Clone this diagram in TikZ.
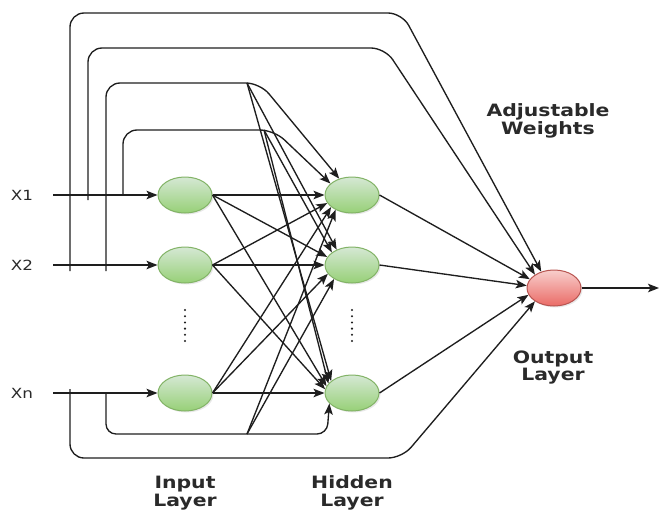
\documentclass[tikz,border=0pt]{standalone}
\usepackage{fontspec}
\setmainfont{DejaVu Sans}
\newfontfamily\lblfont[FakeStretch=1.2]{DejaVu Sans}
\usetikzlibrary{arrows.meta,shapes.geometric,shadows}

\definecolor{gTop}{HTML}{D5E8D4}
\definecolor{gBot}{HTML}{97D077}
\definecolor{gLine}{HTML}{82B366}
\definecolor{rTop}{HTML}{F8CECC}
\definecolor{rBot}{HTML}{EA6B66}
\definecolor{rLine}{HTML}{B85450}
\definecolor{ink}{HTML}{1E1E1E}
\definecolor{txt}{HTML}{2A2A2A}

\tikzset{
  neuron/.style={ellipse, minimum width=54pt, minimum height=36pt, inner sep=0pt,
    line width=1pt, drop shadow={opacity=0.18, shadow xshift=1.5pt, shadow yshift=-1.5pt}},
  greenneuron/.style={neuron, draw=gLine, top color=gTop, bottom color=gBot},
  redneuron/.style={neuron, draw=rLine, top color=rTop, bottom color=rBot},
  conn/.style={draw=ink, line width=1.35pt, -{Stealth[length=11pt,width=8.5pt,inset=2.5pt]}},
  wire/.style={conn, rounded corners=14pt},
  dotline/.style={draw=ink, line width=2.3pt, line cap=round, dash pattern=on 0pt off 6.2pt},
  xlabel/.style={font=\lblfont\fontsize{14}{15}\selectfont, text=txt, inner sep=0pt},
  caption/.style={font=\lblfont\bfseries\fontsize{17}{18}\selectfont, text=txt, inner sep=0pt, anchor=base}
}

\begin{document}
\begin{tikzpicture}[x=1pt, y=-1pt]
\useasboundingbox (0,0) rectangle (660,512);

% neurons
\node[greenneuron] (i1) at (185,195) {};
\node[greenneuron] (i2) at (185,265) {};
\node[greenneuron] (i3) at (185,393) {};
\node[greenneuron] (h1) at (352,195) {};
\node[greenneuron] (h2) at (352,265) {};
\node[greenneuron] (h3) at (352,393) {};
\node[redneuron]   (o)  at (554,288) {};

% input labels and input lines
\node[xlabel] (x1) at (22,195) {X1};
\node[xlabel] (x2) at (22,265) {X2};
\node[xlabel] (xn) at (22,393) {Xn};
\coordinate (s1) at (53,195);
\coordinate (s2) at (53,265);
\coordinate (sn) at (53,393);
\draw[conn] (s1) -- (i1);
\draw[conn] (s2) -- (i2);
\draw[conn] (sn) -- (i3);

% direct links from the inputs (bypassing the input layer)
\coordinate (p1s) at (70,271);  \coordinate (p1c) at (402,13);
\coordinate (p2s) at (88,200);  \coordinate (p2c) at (385,48);
\coordinate (p3s) at (106,271); \coordinate (p3c) at (260,83);
\coordinate (p4s) at (123,195); \coordinate (p4c) at (274,130);
\coordinate (p5s) at (70,389);  \coordinate (p5c) at (402,458);
\coordinate (p6s) at (106,393); \coordinate (p6c) at (327,434);
\draw[wire] (p1s) |- (p1c) -- (o.128);
\draw[wire] (p2s) |- (p2c) -- (o.145);
\draw[wire] (p3s) |- (p3c) -- (h1.128);
\draw[wire] (p4s) |- (p4c) -- (h1.152);
\draw[wire] (p5s) |- (p5c) -- (o.215);
\draw[wire, rounded corners=10pt] (p6s) |- (p6c) -- (h3.205);

% branch points on the bypass links
\coordinate (t2) at (247,83);
\coordinate (t1) at (264,130);
\coordinate (b1) at (247,434);
\draw[conn] (t2) -- (h2.135);
\draw[conn] (t2) -- (h3.150);
\draw[conn] (t1) -- (h2.148);
\draw[conn] (t1) -- (h3.158);
\draw[conn] (b1) -- (h1.222);
\draw[conn] (b1) -- (h2.218);

% input layer to hidden layer
\draw[conn] (i1.east) -- (h1.180);
\draw[conn] (i1.east) -- (h2.162);
\draw[conn] (i1.east) -- (h3.165);
\draw[conn] (i2.east) -- (h1.198);
\draw[conn] (i2.east) -- (h2.180);
\draw[conn] (i2.east) -- (h3.172);
\draw[conn] (i3.east) -- (h1.210);
\draw[conn] (i3.east) -- (h2.200);
\draw[conn] (i3.east) -- (h3.180);

% hidden layer to output
\draw[conn] (h1.east) -- (o.160);
\draw[conn] (h2.east) -- (o.175);
\draw[conn] (h3.east) -- (o.195);
\coordinate (out) at (659,288);
\draw[conn] (o.east) -- (out);

% ellipsis dots
\coordinate (d1a) at (185,310); \coordinate (d1b) at (185,342);
\coordinate (d2a) at (352,310); \coordinate (d2b) at (352,342);
\draw[dotline] (d1a) -- (d1b);
\draw[dotline] (d2a) -- (d2b);

% captions
\node[caption] (aw1) at (548,116) {Adjustable};
\node[caption] (aw2) at (548,134.5) {Weights};
\node[caption] (ol1) at (553,363.5) {Output};
\node[caption] (ol2) at (553,380.5) {Layer};
\node[caption] (il1) at (185,488) {Input};
\node[caption] (il2) at (185,506) {Layer};
\node[caption] (hl1) at (352,488) {Hidden};
\node[caption] (hl2) at (352,506) {Layer};
\end{tikzpicture}
\end{document}
